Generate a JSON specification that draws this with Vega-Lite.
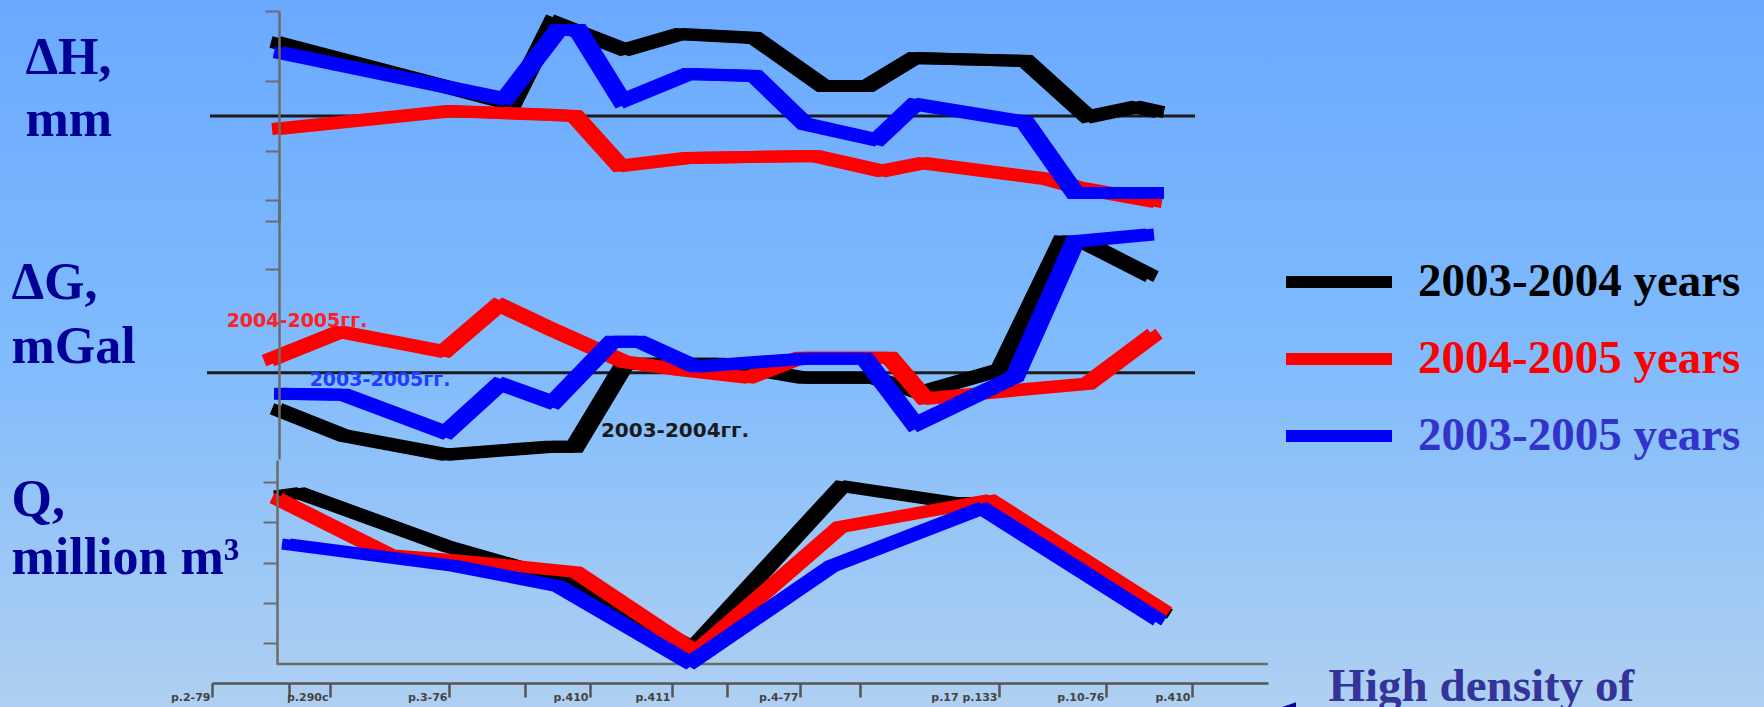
{
  "$schema": "https://vega.github.io/schema/vega-lite/v6.json",
  "width": 1764,
  "height": 707,
  "autosize": "none",
  "padding": 0,
  "background": "#8cbdf8",
  "config": {"view": {"stroke": null}, "axis": {"grid": false}, "line": {"strokeWidth": 12, "strokeJoin": "miter", "strokeMiterLimit": 2.5, "strokeCap": "butt"}},
  "datasets": {
    "dH": [
      {"series": "2003-2004 years", "km": 6.3, "mm": 10.57},
      {"series": "2003-2004 years", "km": 30.0, "mm": 1.71},
      {"series": "2003-2004 years", "km": 34.1, "mm": 13.43},
      {"series": "2003-2004 years", "km": 41.3, "mm": 9.43},
      {"series": "2003-2004 years", "km": 46.8, "mm": 11.71},
      {"series": "2003-2004 years", "km": 54.3, "mm": 11.14},
      {"series": "2003-2004 years", "km": 61.1, "mm": 4.29},
      {"series": "2003-2004 years", "km": 65.6, "mm": 4.29},
      {"series": "2003-2004 years", "km": 70.2, "mm": 8.29},
      {"series": "2003-2004 years", "km": 81.4, "mm": 7.86},
      {"series": "2003-2004 years", "km": 87.6, "mm": -0.14},
      {"series": "2003-2004 years", "km": 92.4, "mm": 1.29},
      {"series": "2003-2004 years", "km": 94.8, "mm": 0.57},
      {"series": "2004-2005 years", "km": 6.4, "mm": -1.86},
      {"series": "2004-2005 years", "km": 23.8, "mm": 0.71},
      {"series": "2004-2005 years", "km": 34.3, "mm": 0.14},
      {"series": "2004-2005 years", "km": 36.3, "mm": 0.0},
      {"series": "2004-2005 years", "km": 40.8, "mm": -7.14},
      {"series": "2004-2005 years", "km": 47.5, "mm": -6.0},
      {"series": "2004-2005 years", "km": 60.3, "mm": -5.71},
      {"series": "2004-2005 years", "km": 67.0, "mm": -7.86},
      {"series": "2004-2005 years", "km": 71.1, "mm": -6.71},
      {"series": "2004-2005 years", "km": 83.5, "mm": -9.0},
      {"series": "2004-2005 years", "km": 86.8, "mm": -10.29},
      {"series": "2004-2005 years", "km": 94.6, "mm": -12.29},
      {"series": "2003-2005 years", "km": 6.6, "mm": 9.14},
      {"series": "2003-2005 years", "km": 29.3, "mm": 2.43},
      {"series": "2003-2005 years", "km": 34.6, "mm": 12.29},
      {"series": "2003-2005 years", "km": 36.6, "mm": 12.29},
      {"series": "2003-2005 years", "km": 41.0, "mm": 2.14},
      {"series": "2003-2005 years", "km": 47.6, "mm": 6.0},
      {"series": "2003-2005 years", "km": 54.3, "mm": 5.71},
      {"series": "2003-2005 years", "km": 59.3, "mm": -1.14},
      {"series": "2003-2005 years", "km": 66.5, "mm": -3.43},
      {"series": "2003-2005 years", "km": 70.3, "mm": 1.71},
      {"series": "2003-2005 years", "km": 81.3, "mm": -0.86},
      {"series": "2003-2005 years", "km": 86.3, "mm": -11.0},
      {"series": "2003-2005 years", "km": 94.8, "mm": -11.0}
    ],
    "dG": [
      {"series": "2003-2004 years", "km": 6.4, "mGal": -0.00522},
      {"series": "2003-2004 years", "km": 13.2, "mGal": -0.00913},
      {"series": "2003-2004 years", "km": 23.4, "mGal": -0.01188},
      {"series": "2003-2004 years", "km": 33.8, "mGal": -0.01072},
      {"series": "2003-2004 years", "km": 36.3, "mGal": -0.01072},
      {"series": "2003-2004 years", "km": 41.3, "mGal": 0.0013},
      {"series": "2003-2004 years", "km": 50.8, "mGal": 0.0013},
      {"series": "2003-2004 years", "km": 59.1, "mGal": -0.00072},
      {"series": "2003-2004 years", "km": 66.1, "mGal": -0.00072},
      {"series": "2003-2004 years", "km": 70.8, "mGal": -0.0029},
      {"series": "2003-2004 years", "km": 78.8, "mGal": 0.00043},
      {"series": "2003-2004 years", "km": 85.0, "mGal": 0.01899},
      {"series": "2003-2004 years", "km": 87.3, "mGal": 0.01884},
      {"series": "2003-2004 years", "km": 94.0, "mGal": 0.01391},
      {"series": "2004-2005 years", "km": 5.6, "mGal": 0.00174},
      {"series": "2004-2005 years", "km": 12.8, "mGal": 0.00594},
      {"series": "2004-2005 years", "km": 23.2, "mGal": 0.00304},
      {"series": "2004-2005 years", "km": 28.7, "mGal": 0.00986},
      {"series": "2004-2005 years", "km": 33.8, "mGal": 0.00638},
      {"series": "2004-2005 years", "km": 41.2, "mGal": 0.00159},
      {"series": "2004-2005 years", "km": 46.8, "mGal": 0.00043},
      {"series": "2004-2005 years", "km": 53.7, "mGal": -0.00072},
      {"series": "2004-2005 years", "km": 58.8, "mGal": 0.00217},
      {"series": "2004-2005 years", "km": 67.8, "mGal": 0.00217},
      {"series": "2004-2005 years", "km": 71.3, "mGal": -0.00377},
      {"series": "2004-2005 years", "km": 79.8, "mGal": -0.00261},
      {"series": "2004-2005 years", "km": 87.6, "mGal": -0.00159},
      {"series": "2004-2005 years", "km": 94.3, "mGal": 0.00565},
      {"series": "2003-2005 years", "km": 6.6, "mGal": -0.00304},
      {"series": "2003-2005 years", "km": 13.2, "mGal": -0.00319},
      {"series": "2003-2005 years", "km": 23.4, "mGal": -0.0087},
      {"series": "2003-2005 years", "km": 28.8, "mGal": -0.00159},
      {"series": "2003-2005 years", "km": 34.1, "mGal": -0.00435},
      {"series": "2003-2005 years", "km": 40.0, "mGal": 0.00449},
      {"series": "2003-2005 years", "km": 42.8, "mGal": 0.00449},
      {"series": "2003-2005 years", "km": 48.3, "mGal": 0.00087},
      {"series": "2003-2005 years", "km": 59.3, "mGal": 0.00203},
      {"series": "2003-2005 years", "km": 65.3, "mGal": 0.00203},
      {"series": "2003-2005 years", "km": 70.3, "mGal": -0.00754},
      {"series": "2003-2005 years", "km": 80.3, "mGal": -0.00058},
      {"series": "2003-2005 years", "km": 86.3, "mGal": 0.01899},
      {"series": "2003-2005 years", "km": 93.8, "mGal": 0.02}
    ],
    "Q": [
      {"series": "2003-2004 years", "km": 6.6, "Q": 4.652},
      {"series": "2003-2004 years", "km": 8.8, "Q": 4.727},
      {"series": "2003-2004 years", "km": 23.4, "Q": 3.41},
      {"series": "2003-2004 years", "km": 34.6, "Q": 2.615},
      {"series": "2003-2004 years", "km": 48.1, "Q": 0.876},
      {"series": "2003-2004 years", "km": 63.0, "Q": 4.901},
      {"series": "2003-2004 years", "km": 74.4, "Q": 4.478},
      {"series": "2003-2004 years", "km": 77.8, "Q": 4.503},
      {"series": "2003-2004 years", "km": 95.4, "Q": 1.72},
      {"series": "2004-2005 years", "km": 6.4, "Q": 4.602},
      {"series": "2004-2005 years", "km": 17.8, "Q": 3.186},
      {"series": "2004-2005 years", "km": 24.3, "Q": 3.062},
      {"series": "2004-2005 years", "km": 36.4, "Q": 2.764},
      {"series": "2004-2005 years", "km": 48.4, "Q": 0.776},
      {"series": "2004-2005 years", "km": 62.8, "Q": 3.882},
      {"series": "2004-2005 years", "km": 77.8, "Q": 4.553},
      {"series": "2004-2005 years", "km": 95.3, "Q": 1.77},
      {"series": "2003-2005 years", "km": 7.4, "Q": 3.46},
      {"series": "2003-2005 years", "km": 24.3, "Q": 2.913},
      {"series": "2003-2005 years", "km": 34.6, "Q": 2.416},
      {"series": "2003-2005 years", "km": 47.8, "Q": 0.503},
      {"series": "2003-2005 years", "km": 62.0, "Q": 2.913},
      {"series": "2003-2005 years", "km": 77.0, "Q": 4.354},
      {"series": "2003-2005 years", "km": 94.8, "Q": 1.547}
    ]
  },
  "layer": [
    {
      "data": {"values": [{}]},
      "mark": {
        "type": "rect",
        "fill": {
          "gradient": "linear", "x1": 0, "y1": 0, "x2": 0, "y2": 1,
          "stops": [
            {"offset": 0, "color": "#6aa9ff"},
            {"offset": 0.5, "color": "#80bbfd"},
            {"offset": 1, "color": "#afd0f1"}
          ]
        }
      },
      "encoding": {}
    },
    {
      "data": {"name": "dH"},
      "layer": [
        {
          "data": {"values": [{}]},
          "mark": {"type": "rule", "color": "#1a1a1a", "strokeWidth": 3},
          "encoding": {
            "x": {"datum": -0.2, "type": "quantitative", "scale": {"domain": [0, 105.6], "range": [212, 1268], "zero": false, "nice": false}},
            "x2": {"datum": 98.3},
            "y": {"datum": 0, "type": "quantitative"}
          }
        },
        {
          "transform": [{"filter": "datum.series == '2003-2004 years'"}],
          "mark": {"type": "line", "xOffset": -4},
          "encoding": {
            "x": {"field": "km", "type": "quantitative", "scale": {"domain": [0, 105.6], "range": [212, 1268], "zero": false, "nice": false}},
            "y": {
              "field": "mm", "type": "quantitative",
              "scale": {"domain": [-15, 15], "range": [221, 11], "zero": false, "nice": false},
              "axis": {
                "zindex": 2, "orient": "left", "offset": -279, "values": [-15, -5, 5, 15], "labels": false,
                "tickSize": 14, "tickColor": "#6b6b6b", "tickWidth": 2, "domainColor": "#6b6b6b", "domainWidth": 2.5,
                "title": ["ΔH,", "mm"], "titleAngle": 0, "titleAlign": "left", "titleBaseline": "alphabetic",
                "titleX": -254, "titleY": 73, "titleFont": "Liberation Serif", "titleFontSize": 52,
                "titleFontWeight": "bold", "titleColor": "#000094", "titleLineHeight": 62
              }
            },
            "color": {
              "field": "series", "type": "nominal",
              "scale": {"domain": ["2003-2004 years", "2004-2005 years", "2003-2005 years"], "range": ["#000000", "#ff0000", "#0000ff"]},
              "legend": {
                "zindex": 2, "orient": "none", "legendX": 1280, "legendY": 259, "direction": "vertical", "title": null,
                "symbolType": "stroke", "symbolSize": 11236, "symbolStrokeWidth": 15,
                "symbolStrokeColor": {"expr": "datum.label == '2004-2005 years' ? '#ff0000' : datum.label == '2003-2005 years' ? '#3333cc' : '#000000'"},
                "labelFont": "Liberation Serif", "labelFontSize": 47, "labelFontWeight": "bold",
                "labelColor": {"expr": "datum.label == '2004-2005 years' ? '#ff0000' : datum.label == '2003-2005 years' ? '#3333cc' : '#000000'"},
                "labelOffset": 20, "clipHeight": 46, "rowPadding": 30, "labelLimit": 0, "padding": 0
              }
            }
          }
        },
        {
          "transform": [{"filter": "datum.series == '2003-2004 years'"}],
          "mark": {"type": "line", "xOffset": 4},
          "encoding": {"x": {"field": "km", "type": "quantitative"}, "y": {"field": "mm", "type": "quantitative"}, "color": {"field": "series", "type": "nominal"}}
        },
        {
          "transform": [{"filter": "datum.series == '2004-2005 years'"}],
          "mark": {"type": "line", "xOffset": -4},
          "encoding": {"x": {"field": "km", "type": "quantitative"}, "y": {"field": "mm", "type": "quantitative"}, "color": {"field": "series", "type": "nominal"}}
        },
        {
          "transform": [{"filter": "datum.series == '2004-2005 years'"}],
          "mark": {"type": "line", "xOffset": 4},
          "encoding": {"x": {"field": "km", "type": "quantitative"}, "y": {"field": "mm", "type": "quantitative"}, "color": {"field": "series", "type": "nominal"}}
        },
        {
          "transform": [{"filter": "datum.series == '2003-2005 years'"}],
          "mark": {"type": "line", "xOffset": -4},
          "encoding": {"x": {"field": "km", "type": "quantitative"}, "y": {"field": "mm", "type": "quantitative"}, "color": {"field": "series", "type": "nominal"}}
        },
        {
          "transform": [{"filter": "datum.series == '2003-2005 years'"}],
          "mark": {"type": "line", "xOffset": 4},
          "encoding": {"x": {"field": "km", "type": "quantitative"}, "y": {"field": "mm", "type": "quantitative"}, "color": {"field": "series", "type": "nominal"}}
        }
      ]
    },
    {
      "data": {"name": "dG"},
      "layer": [
        {
          "data": {"values": [{}]},
          "mark": {"type": "rule", "color": "#1a1a1a", "strokeWidth": 3},
          "encoding": {
            "x": {"datum": -0.5, "type": "quantitative"},
            "x2": {"datum": 98.3},
            "y": {"datum": 0, "type": "quantitative"}
          }
        },
        {
          "transform": [{"filter": "datum.series == '2003-2004 years'"}],
          "mark": {"type": "line", "xOffset": -4},
          "encoding": {
            "x": {"field": "km", "type": "quantitative"},
            "y": {
              "field": "mGal", "type": "quantitative",
              "scale": {"domain": [-0.0125, 0.025], "range": [459, 200], "zero": false, "nice": false},
              "axis": {
                "zindex": 2, "orient": "left", "offset": -279, "values": [0.025, 0.015], "labels": false,
                "tickSize": 14, "tickColor": "#6b6b6b", "tickWidth": 2, "domainColor": "#6b6b6b", "domainWidth": 2.5,
                "title": ["ΔG,", "mGal"], "titleAngle": 0, "titleAlign": "left", "titleBaseline": "alphabetic",
                "titleX": -268, "titleY": 298, "titleFont": "Liberation Serif", "titleFontSize": 52,
                "titleFontWeight": "bold", "titleColor": "#000094", "titleLineHeight": 64
              }
            },
            "color": {"field": "series", "type": "nominal"}
          }
        },
        {
          "transform": [{"filter": "datum.series == '2003-2004 years'"}],
          "mark": {"type": "line", "xOffset": 4},
          "encoding": {"x": {"field": "km", "type": "quantitative"}, "y": {"field": "mGal", "type": "quantitative"}, "color": {"field": "series", "type": "nominal"}}
        },
        {
          "transform": [{"filter": "datum.series == '2004-2005 years'"}],
          "mark": {"type": "line", "xOffset": -4},
          "encoding": {"x": {"field": "km", "type": "quantitative"}, "y": {"field": "mGal", "type": "quantitative"}, "color": {"field": "series", "type": "nominal"}}
        },
        {
          "transform": [{"filter": "datum.series == '2004-2005 years'"}],
          "mark": {"type": "line", "xOffset": 4},
          "encoding": {"x": {"field": "km", "type": "quantitative"}, "y": {"field": "mGal", "type": "quantitative"}, "color": {"field": "series", "type": "nominal"}}
        },
        {
          "transform": [{"filter": "datum.series == '2003-2005 years'"}],
          "mark": {"type": "line", "xOffset": -4},
          "encoding": {"x": {"field": "km", "type": "quantitative"}, "y": {"field": "mGal", "type": "quantitative"}, "color": {"field": "series", "type": "nominal"}}
        },
        {
          "transform": [{"filter": "datum.series == '2003-2005 years'"}],
          "mark": {"type": "line", "xOffset": 4},
          "encoding": {"x": {"field": "km", "type": "quantitative"}, "y": {"field": "mGal", "type": "quantitative"}, "color": {"field": "series", "type": "nominal"}}
        },
        {
          "data": {"values": [{}]},
          "mark": {"type": "text", "text": "2004-2005гг.", "font": "DejaVu Sans", "fontWeight": "bold", "fontSize": 19, "color": "#ff2020", "align": "center", "baseline": "middle"},
          "encoding": {"x": {"datum": 8.5, "type": "quantitative"}, "y": {"datum": 0.00754, "type": "quantitative"}}
        },
        {
          "data": {"values": [{}]},
          "mark": {"type": "text", "text": "2003-2005гг.", "font": "DejaVu Sans", "fontWeight": "bold", "fontSize": 19, "color": "#1f3cff", "align": "center", "baseline": "middle"},
          "encoding": {"x": {"datum": 16.8, "type": "quantitative"}, "y": {"datum": -0.00101, "type": "quantitative"}}
        },
        {
          "data": {"values": [{}]},
          "mark": {"type": "text", "text": "2003-2004гг.", "font": "DejaVu Sans", "fontWeight": "bold", "fontSize": 20, "color": "#1a1a1a", "align": "center", "baseline": "middle"},
          "encoding": {"x": {"datum": 46.3, "type": "quantitative"}, "y": {"datum": -0.0084, "type": "quantitative"}}
        }
      ]
    },
    {
      "data": {"name": "Q"},
      "layer": [
        {
          "data": {"values": [{}]},
          "mark": {"type": "rule", "color": "#6b6b6b", "strokeWidth": 2.5},
          "encoding": {
            "x": {"datum": 6.5, "type": "quantitative"},
            "x2": {"datum": 105.6},
            "y": {"datum": 0.478, "type": "quantitative"}
          }
        },
        {
          "transform": [{"filter": "datum.series == '2003-2004 years'"}],
          "mark": {"type": "line", "xOffset": -4, "strokeWidth": 11},
          "encoding": {
            "x": {
              "field": "km", "type": "quantitative",
              "axis": {
                "zindex": 2, "orient": "bottom", "offset": -24,
                "values": [0, 7.7, 11.8, 23.7, 31.3, 37.8, 46.0, 51.5, 58.8, 64.8, 78.7, 89.4, 98.0],
                "labelExpr": "datum.value == 0 ? 'р.2-79' : datum.value == 11.8 ? 'р.290с' : datum.value == 23.7 ? 'р.3-76' : datum.value == 37.8 ? 'р.410' : datum.value == 46 ? 'р.411' : datum.value == 58.8 ? 'р.4-77' : datum.value == 78.7 ? 'р.17 р.133' : datum.value == 89.4 ? 'р.10-76' : datum.value == 98 ? 'р.410' : ''",
                "domainColor": "#555555", "domainWidth": 2.5, "tickColor": "#555555", "tickWidth": 2.5, "tickSize": 14,
                "labelAlign": "right", "labelBaseline": "alphabetic", "labelPadding": 3, "labelOffset": -2,
                "labelFont": "DejaVu Sans", "labelFontWeight": "bold", "labelFontSize": 11, "labelColor": "#444444",
                "labelOverlap": false, "labelBound": false, "labelFlush": false,
                "title": "High density of", "titleX": 1328, "titleY": 17, "titleAlign": "left", "titleBaseline": "alphabetic",
                "titleFont": "Liberation Serif", "titleFontSize": 47, "titleFontWeight": "bold", "titleColor": "#333399"
              }
            },
            "y": {
              "field": "Q", "type": "quantitative",
              "scale": {"domain": [0.478, 5.547], "range": [664, 460], "zero": false, "nice": false},
              "axis": {
                "zindex": 2, "orient": "left", "offset": -277, "values": [1, 2, 3, 4, 5], "labels": false,
                "tickSize": 14, "tickColor": "#6b6b6b", "tickWidth": 2, "domainColor": "#6b6b6b", "domainWidth": 2.5,
                "title": ["Q,", "million m³"], "titleAngle": 0, "titleAlign": "left", "titleBaseline": "alphabetic",
                "titleX": -266, "titleY": 515, "titleFont": "Liberation Serif", "titleFontSize": 52,
                "titleFontWeight": "bold", "titleColor": "#000094", "titleLineHeight": 58
              }
            },
            "color": {"field": "series", "type": "nominal"}
          }
        },
        {
          "transform": [{"filter": "datum.series == '2003-2004 years'"}],
          "mark": {"type": "line", "xOffset": 4, "strokeWidth": 11},
          "encoding": {"x": {"field": "km", "type": "quantitative"}, "y": {"field": "Q", "type": "quantitative"}, "color": {"field": "series", "type": "nominal"}}
        },
        {
          "transform": [{"filter": "datum.series == '2004-2005 years'"}],
          "mark": {"type": "line", "xOffset": -4, "strokeWidth": 11},
          "encoding": {"x": {"field": "km", "type": "quantitative"}, "y": {"field": "Q", "type": "quantitative"}, "color": {"field": "series", "type": "nominal"}}
        },
        {
          "transform": [{"filter": "datum.series == '2004-2005 years'"}],
          "mark": {"type": "line", "xOffset": 4, "strokeWidth": 11},
          "encoding": {"x": {"field": "km", "type": "quantitative"}, "y": {"field": "Q", "type": "quantitative"}, "color": {"field": "series", "type": "nominal"}}
        },
        {
          "transform": [{"filter": "datum.series == '2003-2005 years'"}],
          "mark": {"type": "line", "xOffset": -4, "strokeWidth": 11},
          "encoding": {"x": {"field": "km", "type": "quantitative"}, "y": {"field": "Q", "type": "quantitative"}, "color": {"field": "series", "type": "nominal"}}
        },
        {
          "transform": [{"filter": "datum.series == '2003-2005 years'"}],
          "mark": {"type": "line", "xOffset": 4, "strokeWidth": 11},
          "encoding": {"x": {"field": "km", "type": "quantitative"}, "y": {"field": "Q", "type": "quantitative"}, "color": {"field": "series", "type": "nominal"}}
        },
        {
          "data": {"values": [{}]},
          "mark": {"type": "point", "shape": "M-1,0L1,-0.7L1,0.7Z", "filled": true, "color": "#000099", "opacity": 1, "size": 784},
          "encoding": {"x": {"datum": 107.0, "type": "quantitative"}, "y": {"datum": -0.714, "type": "quantitative"}}
        }
      ]
    }
  ],
  "resolve": {"scale": {"y": "independent"}, "axis": {"y": "independent"}}
}
